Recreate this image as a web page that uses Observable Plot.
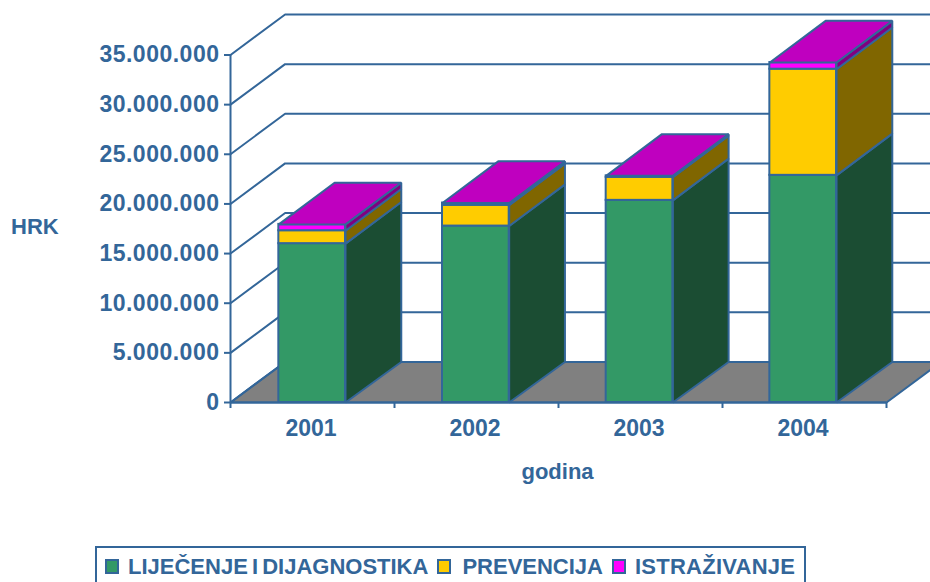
<!DOCTYPE html>
<html>
<head>
<meta charset="utf-8">
<script src="https://cdn.jsdelivr.net/npm/d3@7"></script>
<script src="https://cdn.jsdelivr.net/npm/@observablehq/plot@0.6"></script>
<style>
html,body{margin:0;padding:0;background:#fff;overflow:hidden}
#chart svg{display:block}
#chart g[aria-label="y-axis tick label"]{letter-spacing:.5px}
#legend{position:relative;box-sizing:border-box;margin-left:95px;width:711px;height:36px;border:2px solid #336699;border-bottom:none;
 display:flex;align-items:center;padding:3px 0 0 8px;font:bold 22px "Liberation Sans",Arial,sans-serif;color:#336699;white-space:nowrap;word-spacing:-2px}
#legend i{flex:none;display:inline-block;box-sizing:border-box;width:14px;height:15px;border:2px solid #336699;margin-right:9px}
#legend i:nth-of-type(2){margin-right:11px}
#legend i:nth-of-type(3){margin-right:9px}
#legend span{flex:none;margin-right:9px}
#legend span:nth-of-type(3){letter-spacing:.25px}
</style>
</head>
<body>
<div id="chart"></div>
<div id="legend"></div>
<script>
const years = ["2001", "2002", "2003", "2004"];
const seriesNames = ["LIJEČENJE I DIJAGNOSTIKA", "PREVENCIJA", "ISTRAŽIVANJE"];
const lijecenje = [16000000, 17770000, 20360000, 22880000];
const prevencija = [1300000, 2090000, 2320000, 10690000];
const istrazivanje = [640000, 230000, 150000, 670000];
const yTicks = [0, 5000000, 10000000, 15000000, 20000000, 25000000, 30000000, 35000000];
const frontColors = ["#339966", "#ffcc00", "#ff00ff"];
const sideColors = ["#1b4d33", "#806600", "#800080"];
const topColor = "#bf00bf";
const floorColor = "#808080";
const ink = "#336699";
const font = '"Liberation Sans",Arial,sans-serif';

const wallX = 0.333, wallY = 4080000;
const barX = 0.34, barY = 4200000, halfBar = 0.2033, sw = 2;
const series = [lijecenje, prevencija, istrazivanje];

const poly = (pts, fill) => Plot.line(pts.map(([x, y]) => ({x, y})), {
  x: "x", y: "y", fill, stroke: ink, strokeWidth: sw, curve: "linear-closed", strokeLinejoin: "miter"
});

const marks = [];
// floor
marks.push(poly([[0, 0], [4, 0], [4 + wallX, wallY], [wallX, wallY]], floorColor));
// wall gridlines
for (const v of yTicks) {
  marks.push(Plot.line([[0, v], [wallX, v + wallY], [6, v + wallY]].map(([x, y]) => ({x, y})),
    {x: "x", y: "y", stroke: ink, strokeWidth: sw}));
}
// bars
years.forEach((yr, i) => {
  const c = 0.498 + i * 0.998;
  const x1 = c - halfBar, x2 = c + halfBar;
  let base = 0;
  series.forEach((s, k) => {
    const top = base + s[i];
    const backBase = k === 0 ? wallY : base + barY;
    marks.push(poly([[x2, base], [x2 + barX, backBase], [x2 + barX, top + barY], [x2, top]], sideColors[k]));
    marks.push(Plot.rect([{x1, x2, y1: base, y2: top}], {
      x1: "x1", x2: "x2", y1: "y1", y2: "y2", fill: frontColors[k], stroke: ink, strokeWidth: sw
    }));
    base = top;
  });
  marks.push(poly([[x1, base], [x2, base], [x2 + barX, base + barY], [x1 + barX, base + barY]], topColor));
});
// axes
marks.push(Plot.ruleX([0], {y1: 0, y2: 35000000, stroke: ink, strokeWidth: sw}));
marks.push(Plot.ruleY([0], {x1: 0, x2: 4, stroke: ink, strokeWidth: sw}));
marks.push(Plot.axisX([0, 1, 2, 3, 4], {anchor: "bottom", tickSize: 6, tickFormat: () => "", stroke: ink, strokeWidth: sw, label: null}));
marks.push(Plot.axisY(yTicks, {
  anchor: "left", tickSize: 6, tickPadding: 5, stroke: ink, strokeWidth: sw, label: null,
  tickFormat: d => d3.format(",")(d).replace(/,/g, "."),
  fill: ink, fontSize: 23, fontWeight: "bold", fontFamily: font
}));
marks.push(Plot.text(years, {
  x: (d, i) => i + 0.5, y: () => 0, dx: -1.5, dy: 26, text: d => d, fill: ink, fontSize: 23, fontWeight: "bold", fontFamily: font
}));
marks.push(Plot.text(["godina"], {
  x: () => 2, y: () => 0, dx: -1, dy: 69, text: d => d, fill: ink, fontSize: 22, fontWeight: "bold", fontFamily: font
}));
marks.push(Plot.text(["HRK"], {
  frameAnchor: "left", dx: -219.5, y: () => 17700000, text: d => d, textAnchor: "start", fill: ink, fontSize: 22, fontWeight: "bold", fontFamily: font
}));

const chart = Plot.plot({
  width: 930, height: 546,
  marginLeft: 230, marginRight: 44, marginTop: 54.5, marginBottom: 144,
  x: {domain: [0, 4], axis: null},
  y: {domain: [0, 35000000], axis: null},
  marks
});
document.getElementById("chart").append(chart);

const legend = document.getElementById("legend");
seriesNames.forEach((n, k) => {
  const swatch = document.createElement("i");
  swatch.style.background = frontColors[k];
  const t = document.createElement("span");
  t.textContent = n;
  legend.append(swatch, t);
});
</script>
</body>
</html>
